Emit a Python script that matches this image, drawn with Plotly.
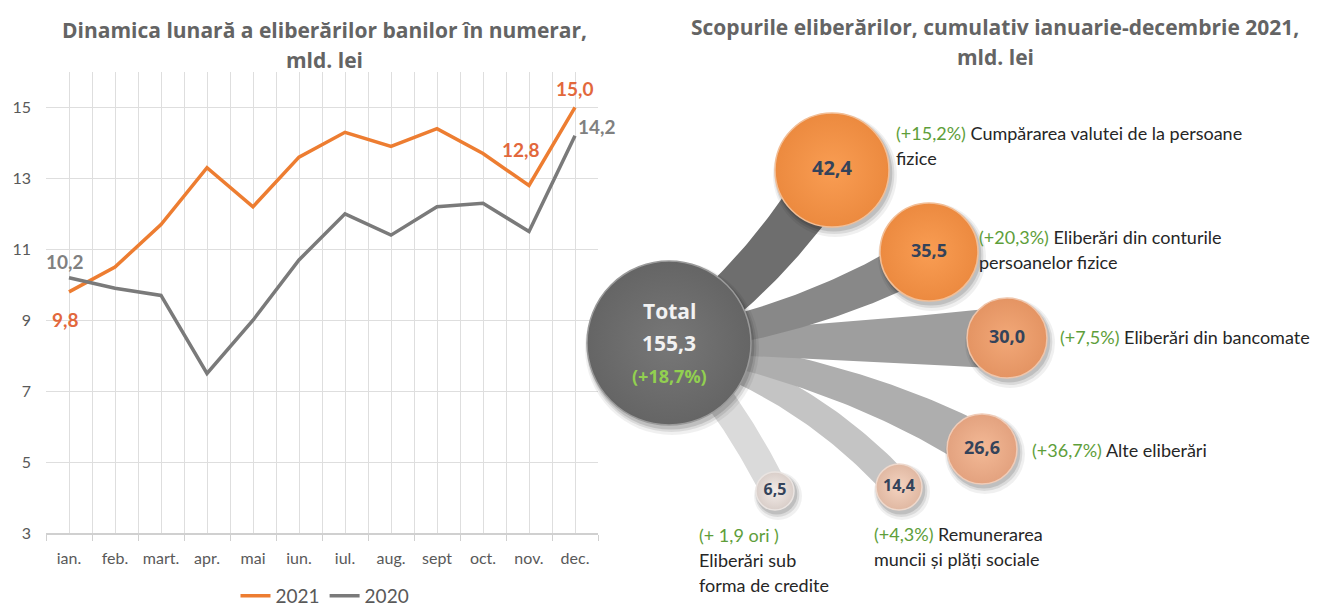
import numpy as np
import plotly.graph_objects as go

W, H = 1322, 610

# ---------------- data ----------------
months = ["ian.", "feb.", "mart.", "apr.", "mai", "iun.", "iul.", "aug.", "sept", "oct.", "nov.", "dec."]
values_2021 = [9.8, 10.5, 11.7, 13.3, 12.2, 13.6, 14.3, 13.9, 14.4, 13.7, 12.8, 15.0]
values_2020 = [10.2, 9.9, 9.7, 7.5, 9.0, 10.7, 12.0, 11.4, 12.2, 12.3, 11.5, 14.2]
y_ticks = [3, 5, 7, 9, 11, 13, 15]
labelled_2021 = [0, 10, 11]
labelled_2020 = [0, 11]

total_value = 155.3
total_growth = "(+18,7%)"
purpose_labels = [
    "Cumpărarea valutei de la persoane fizice",
    "Eliberări din conturile persoanelor fizice",
    "Eliberări din bancomate",
    "Alte eliberări",
    "Remunerarea muncii și plăți sociale",
    "Eliberări sub forma de credite",
]
purpose_values = [42.4, 35.5, 30.0, 26.6, 14.4, 6.5]
purpose_growth = ["(+15,2%)", "(+20,3%)", "(+7,5%)", "(+36,7%)", "(+4,3%)", "(+ 1,9 ori )"]

title_left = ["Dinamica lunară a eliberărilor banilor în numerar,", "mld. lei"]
title_right = ["Scopurile eliberărilor, cumulativ ianuarie-decembrie 2021,", "mld. lei"]

# ---------------- styles / layout ----------------
ORANGE = "#ED7D31"
GRAY = "#7A7A7A"
ORANGE_LBL = "#E2683C"
GRAY_LBL = "#808080"
TXT = "#595959"
TITLE = "#646464"
GREEN = "#5E9E3A"
LGREEN = "#92D050"
FONT = "Lato"
TFONT = "Open Sans"

def fmt(v):
    return f"{v:.1f}".replace(".", ",")

def px(x):
    return x / W

def py(y):
    return 1 - y / H

# diagram layout (pixel positions)
total_pos = (669, 343)
total_r = 82
bubble_pos = [(832, 170), (929, 252), (1007, 338), (982, 449), (899, 487), (775, 491)]
bubble_r = [57, 49, 40, 35, 23, 19]
bubble_edge = ["#EC8A3F", "#EC8A40", "#E49463", "#E3A27F", "#E0B8A2", "#D9CEC9"]
bubble_center = ["#F99D53", "#F99D53", "#F2A878", "#F3B996", "#F4D3C0", "#F3ECE8"]
bubble_rim = ["#F2BE96", "#F2BE96", "#EFC5AB", "#F0CCB8", "#EED9CD", "#EAE4E1"]
bubble_font = [20, 18, 18, 18, 16, 16]
band_color = ["#6E6E6E", "#888888", "#9E9E9E", "#AEAEAE", "#C4C4C4", "#DADADA"]
band_w0 = [19, 12, 9, 9, 12, 15]
band_w1 = [26, 22, 31, 23, 15, 14]
band_ab = [(0.55, 0.35), (0.6, 0.3), (0.6, 0.3), (0.6, 0.3), (0.6, 0.3), (0.5, 0.3)]
label_pos = [(894, 133), (977, 237), (1058, 337), (1030, 450), (872, 534), (697, 535)]
label_wrap = [[5, 6], [3, 5], [3], [2], [1, 5], [0, 2, 5]]  # word index where each line ends
LINE_GAP = 25

fig = go.Figure()

# ---------------- left: line chart ----------------
xi = list(range(len(months)))
fig.add_trace(go.Scatter(x=xi, y=values_2021, mode="lines", name="2021",
                         line=dict(color=ORANGE, width=3.5), xaxis="x", yaxis="y"))
fig.add_trace(go.Scatter(x=xi, y=values_2020, mode="lines", name="2020",
                         line=dict(color=GRAY, width=3.5), xaxis="x", yaxis="y"))

ann = []
shifts_2021 = {0: (-4, -28), 10: (-8, 36), 11: (0, 19)}
shifts_2020 = {0: (-4, 16), 11: (22, 9)}
for i in labelled_2021:
    dx, dy = shifts_2021[i]
    ann.append(dict(x=i, y=values_2021[i], xref="x", yref="y", text=fmt(values_2021[i]),
                    showarrow=False, xshift=dx, yshift=dy,
                    font=dict(family=FONT, size=19, color=ORANGE_LBL, weight="bold")))
for i in labelled_2020:
    dx, dy = shifts_2020[i]
    ann.append(dict(x=i, y=values_2020[i], xref="x", yref="y", text=fmt(values_2020[i]),
                    showarrow=False, xshift=dx, yshift=dy,
                    font=dict(family=FONT, size=19, color=GRAY_LBL, weight="bold")))

for k, t in enumerate(title_left):
    ann.append(dict(x=px(324), y=py(30 + 30 * k), xref="paper", yref="paper", text=t,
                    xanchor="center", yanchor="middle",
                    showarrow=False, font=dict(family=TFONT, size=21, color=TITLE, weight="bold")))
for k, t in enumerate(title_right):
    ann.append(dict(x=px(995), y=py(27 + 30 * k), xref="paper", yref="paper", text=t,
                    xanchor="center", yanchor="middle",
                    showarrow=False, font=dict(family=TFONT, size=21, color=TITLE, weight="bold")))

# ---------------- right: bubble diagram ----------------
def band(C, B, w0, w1, a, b, n=60):
    t = np.linspace(0, 1, n)
    P = (C[0] + a * (B[0] - C[0]), C[1] + b * (B[1] - C[1]))
    x = (1 - t) ** 2 * C[0] + 2 * (1 - t) * t * P[0] + t ** 2 * B[0]
    y = (1 - t) ** 2 * C[1] + 2 * (1 - t) * t * P[1] + t ** 2 * B[1]
    dx = 2 * (1 - t) * (P[0] - C[0]) + 2 * t * (B[0] - P[0])
    dy = 2 * (1 - t) * (P[1] - C[1]) + 2 * t * (B[1] - P[1])
    L = np.hypot(dx, dy)
    nx, ny = -dy / L, dx / L
    w = w0 + (w1 - w0) * t
    xs = np.concatenate([x + nx * w, (x - nx * w)[::-1]])
    ys = np.concatenate([y + ny * w, (y - ny * w)[::-1]])
    return xs, ys

for i in range(len(purpose_values))[::-1]:
    a, b = band_ab[i]
    xs, ys = band(total_pos, bubble_pos[i], band_w0[i], band_w1[i], a, b)
    fig.add_trace(go.Scatter(x=xs, y=ys, fill="toself", fillcolor=band_color[i], mode="lines",
                             line=dict(width=0), hoverinfo="skip", showlegend=False,
                             xaxis="x2", yaxis="y2"))

# shadows
all_x = [total_pos[0]] + [p[0] for p in bubble_pos]
all_y = [total_pos[1]] + [p[1] for p in bubble_pos]
all_r = [total_r] + bubble_r
for off, alpha, grow in [(5, 0.06, 10), (4, 0.09, 6), (3, 0.12, 3)]:
    fig.add_trace(go.Scatter(x=[x + off * 0.6 for x in all_x], y=[y + off for y in all_y],
                             mode="markers", hoverinfo="skip", showlegend=False,
                             marker=dict(size=[2 * r + grow for r in all_r], opacity=1,
                                         color=f"rgba(0,0,0,{alpha})", line=dict(width=0)),
                             xaxis="x2", yaxis="y2"))

# total circle
fig.add_trace(go.Scatter(x=[total_pos[0]], y=[total_pos[1]], mode="markers", hoverinfo="skip",
                         showlegend=False,
                         marker=dict(size=2 * total_r, color="#656565", opacity=1,
                                     gradient=dict(type="radial", color="#777777"),
                                     line=dict(width=1.5, color="#9A9A9A")),
                         xaxis="x2", yaxis="y2"))
# bubbles
fig.add_trace(go.Scatter(x=[p[0] for p in bubble_pos], y=[p[1] for p in bubble_pos],
                         mode="markers+text", hoverinfo="skip", showlegend=False,
                         marker=dict(size=[2 * r for r in bubble_r], color=bubble_edge, opacity=1,
                                     gradient=dict(type="radial", color=bubble_center),
                                     line=dict(width=1.5, color=bubble_rim)),
                         text=[fmt(v) for v in purpose_values], textposition="middle center",
                         textfont=dict(family=TFONT, size=bubble_font, color="#34435A", weight="bold"),
                         xaxis="x2", yaxis="y2"))

# total text
ann.append(dict(x=total_pos[0], y=total_pos[1] - 32, xref="x2", yref="y2", text="Total",
                showarrow=False, font=dict(family=TFONT, size=21, color="#F2F2F2", weight="bold")))
ann.append(dict(x=total_pos[0], y=total_pos[1], xref="x2", yref="y2", text=fmt(total_value),
                showarrow=False, font=dict(family=TFONT, size=21, color="#F2F2F2", weight="bold")))
ann.append(dict(x=total_pos[0], y=total_pos[1] + 33, xref="x2", yref="y2", text=total_growth,
                showarrow=False, font=dict(family=TFONT, size=18, color=LGREEN, weight="bold")))

# purpose labels
for i, name in enumerate(purpose_labels):
    words = name.split(" ")
    lines = []
    start = 0
    for end in label_wrap[i]:
        lines.append(" ".join(words[start:end]))
        start = end
    x0, y0 = label_pos[i]
    for k, line in enumerate(lines):
        txt = line
        if k == 0:
            g = f"<span style='color:{GREEN}'>{purpose_growth[i]}</span>"
            txt = g + (" " + line if line else "")
        ann.append(dict(x=x0, y=y0 + LINE_GAP * k, xref="x2", yref="y2", text=txt,
                        xanchor="left", yanchor="middle", showarrow=False,
                        font=dict(family=FONT, size=18, color="#262626")))

fig.update_layout(
    width=W, height=H,
    margin=dict(l=0, r=0, t=0, b=0, autoexpand=False),
    paper_bgcolor="white", plot_bgcolor="rgba(0,0,0,0)",
    showlegend=True,
    legend=dict(orientation="h", x=px(325), xanchor="center", y=py(596), yanchor="middle",
                font=dict(family=FONT, size=19, color=TXT), itemwidth=30, traceorder="normal",
                bgcolor="rgba(0,0,0,0)"),
    xaxis=dict(domain=[px(46), px(598)], range=[-0.5, len(months) - 0.5],
               tickmode="array", tickvals=xi, ticktext=months,
               showgrid=True, gridcolor="#DEDEDE", gridwidth=1,
               minor=dict(tickmode="array", tickvals=[k - 0.5 for k in range(len(months) + 1)],
                          showgrid=True, gridcolor="#DEDEDE", gridwidth=1,
                          ticks="outside", ticklen=6, tickcolor="#D0D0D0"),
               ticks="", showline=True, linecolor="#D0D0D0", linewidth=1.5, zeroline=False,
               tickfont=dict(family=FONT, size=16, color=TXT), ticklabelstandoff=10),
    yaxis=dict(domain=[py(533), py(72)], range=[3, 16], tickmode="array", tickvals=y_ticks,
               showgrid=True, gridcolor="#DEDEDE", gridwidth=1, zeroline=False, showline=False,
               ticks="", tickfont=dict(family=FONT, size=16, color=TXT), ticklabelstandoff=14),
    xaxis2=dict(domain=[px(560), 1], range=[560, W], visible=False, fixedrange=True),
    yaxis2=dict(domain=[0, 1], range=[H, 0], visible=False, fixedrange=True),
    annotations=ann,
)

fig.write_html("out.html")
